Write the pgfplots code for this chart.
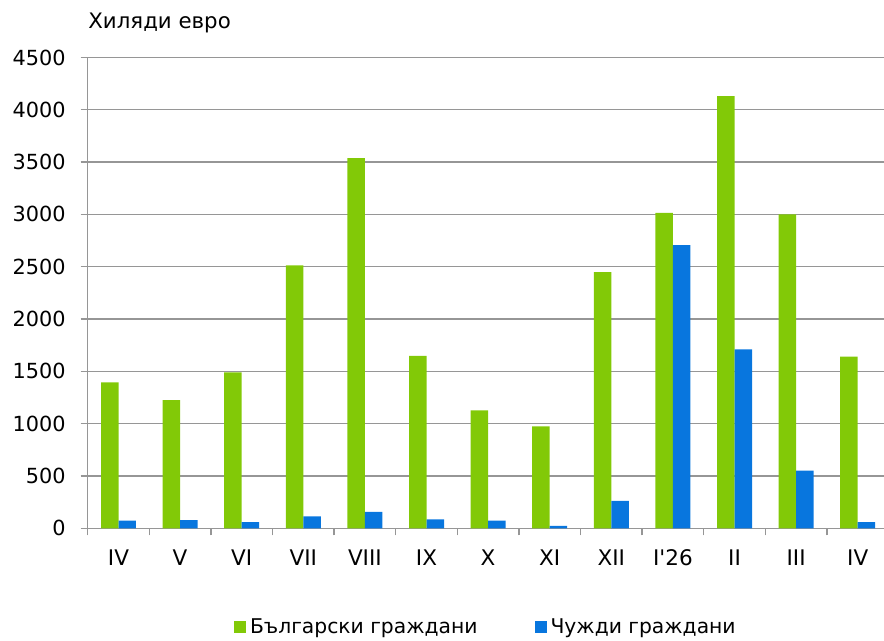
\documentclass[border=0pt]{standalone}
\usepackage{fontspec}
\setmainfont{DejaVu Sans}[Ligatures=TeXOff]
\usepackage{pgfplots}
\pgfplotsset{compat=1.18}
\definecolor{bgreen}{RGB}{130,201,7}
\definecolor{bblue}{RGB}{8,118,222}
\definecolor{gridgray}{RGB}{150,150,150}
\begin{document}
\begin{tikzpicture}[x=1bp,y=1bp]
\useasboundingbox (0,0) rectangle (884,641);
\begin{axis}[
  at={(87.7bp,112.7bp)}, anchor=south west,
  scale only axis, width=796.3bp, height=470.8bp,
  xmin=-0.5, xmax=12.427, ymin=0, ymax=4500,
  axis x line*=bottom, axis y line*=left,
  axis line style={gridgray, line width=1.3bp},
  ytick={0,500,...,4500},
  ymajorgrids, grid style={gridgray, line width=1.3bp},
  xtick={0,...,12},
  xticklabels={IV,V,VI,VII,VIII,IX,X,XI,XII,I'26,II,III,IV},
  minor xtick={-0.5,0.5,...,12.5},
  tick align=outside,
  major tick length=7bp, minor tick length=7bp,
  major x tick style={draw=none},
  tick style={gridgray, line width=1.3bp},
  /pgf/number format/assume math mode=true,
  /pgf/number format/1000 sep={},
  yticklabel style={font=\fontsize{20.8bp}{24bp}\selectfont, inner sep=0pt, xshift=-15bp},
  xticklabel style={font=\fontsize{21.5bp}{25bp}\selectfont, inner sep=0pt, text height=16bp, anchor=north, yshift=-14bp},
  ylabel={Хиляди евро},
  every axis y label/.style={at={(axis description cs:0,1)}, anchor=base west, inner sep=0pt, xshift=0.5bp, yshift=29.2bp, font=\fontsize{21.3bp}{25bp}\selectfont},
  legend columns=2,
  legend style={draw=none, at={(0.5,-0.2103)}, anchor=center, font=\fontsize{20.3bp}{24bp}\selectfont,
    /tikz/every even column/.append style={column sep=55bp},
    /tikz/every odd column/.append style={column sep=2bp}},
  legend image code/.code={\fill[#1] (0bp,-6bp) rectangle (12bp,6bp);},
]
\addplot[ybar, bar width=0.284, bar shift=-0.142, fill=bgreen, draw=none] coordinates {
(0,1395) (1,1225) (2,1490) (3,2513) (4,3538) (5,1649) (6,1128) (7,975) (8,2449) (9,3015) (10,4130) (11,3000) (12,1640)};
\addlegendentry{Български граждани}
\addplot[ybar, bar width=0.284, bar shift=0.142, fill=bblue, draw=none] coordinates {
(0,73) (1,79) (2,60) (3,115) (4,156) (5,86) (6,73) (7,22) (8,261) (9,2707) (10,1710) (11,551) (12,60)};
\addlegendentry{Чужди граждани}
\end{axis}
\end{tikzpicture}
\end{document}
